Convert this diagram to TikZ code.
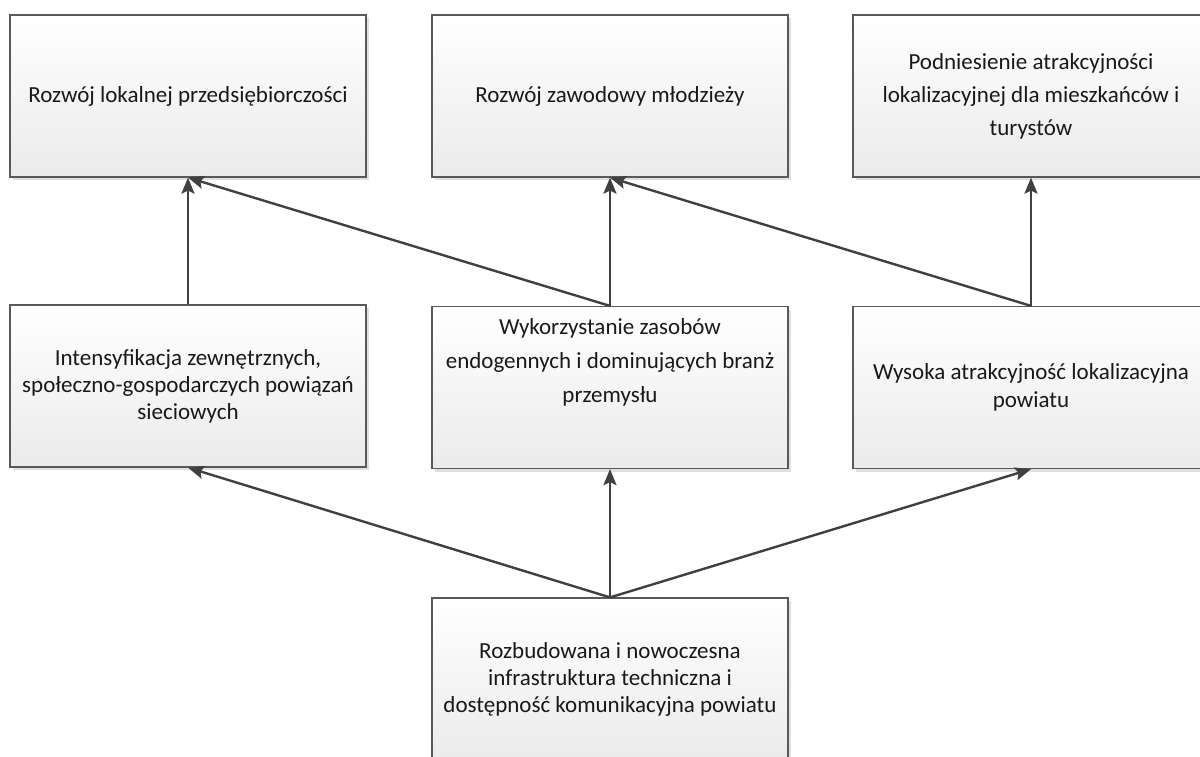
\documentclass[tikz,border=0pt]{standalone}
\usepackage{fontspec}
\setmainfont{Carlito}
\usepackage{tikz}
\usetikzlibrary{arrows.meta,shadows}
\colorlet{boxline}{black!65}
\colorlet{boxshade}{black!8}
\colorlet{linkgray}{black!75}
\tikzset{
  goal/.style={draw=boxline, line width=0.6pt, top color=white, bottom color=boxshade,
    minimum width=178pt, minimum height=81pt, inner sep=0pt, align=center,
    text=black!90,
    drop shadow={shadow xshift=1.5pt, shadow yshift=-1.5pt, fill=black!12, opacity=1},
    font=\fontsize{11.5}{13.5}\selectfont},
  link/.style={draw=linkgray, line width=1.2pt, -{Stealth[length=8pt,width=6.5pt,inset=1.5pt]}}
}

\begin{document}
\begin{tikzpicture}[x=0.5pt,y=-0.5pt]
\useasboundingbox (0,0) rectangle (1200,756);
\node[goal] (t1) at (188,96) {Rozwój lokalnej przedsiębiorczości};
\node[goal] (t2) at (610,96) {Rozwój zawodowy młodzieży};
\node[goal, font=\fontsize{11.5}{16.5}\selectfont] (t3) at (1031,96) {Podniesienie atrakcyjności\\lokalizacyjnej dla mieszkańców i\\turystów};
\node[goal] (m1) at (188,386) {Intensyfikacja zewnętrznych,\\społeczno-gospodarczych powiązań\\sieciowych};
\node[goal, font=\fontsize{11.5}{17}\selectfont] (m2) at (610,387.5) {Wykorzystanie zasobów\\endogennych i dominujących branż\\przemysłu\\[10pt]\mbox{}};
\node[goal, font=\fontsize{11.5}{14}\selectfont] (m3) at (1031,387.5) {Wysoka atrakcyjność lokalizacyjna\\powiatu};
\node[goal] (b) at (610,679) {Rozbudowana i nowoczesna\\infrastruktura techniczna i\\dostępność komunikacyjna powiatu};
\draw[link] (m1.north) -- (t1.south);
\draw[link] (m2.north) -- (t1.south);
\draw[link] (m2.north) -- (t2.south);
\draw[link] (m3.north) -- (t2.south);
\draw[link] (m3.north) -- (t3.south);
\draw[link] (b.north) -- (m1.south);
\draw[link] (b.north) -- (m2.south);
\draw[link] (b.north) -- (m3.south);
\end{tikzpicture}
\end{document}
